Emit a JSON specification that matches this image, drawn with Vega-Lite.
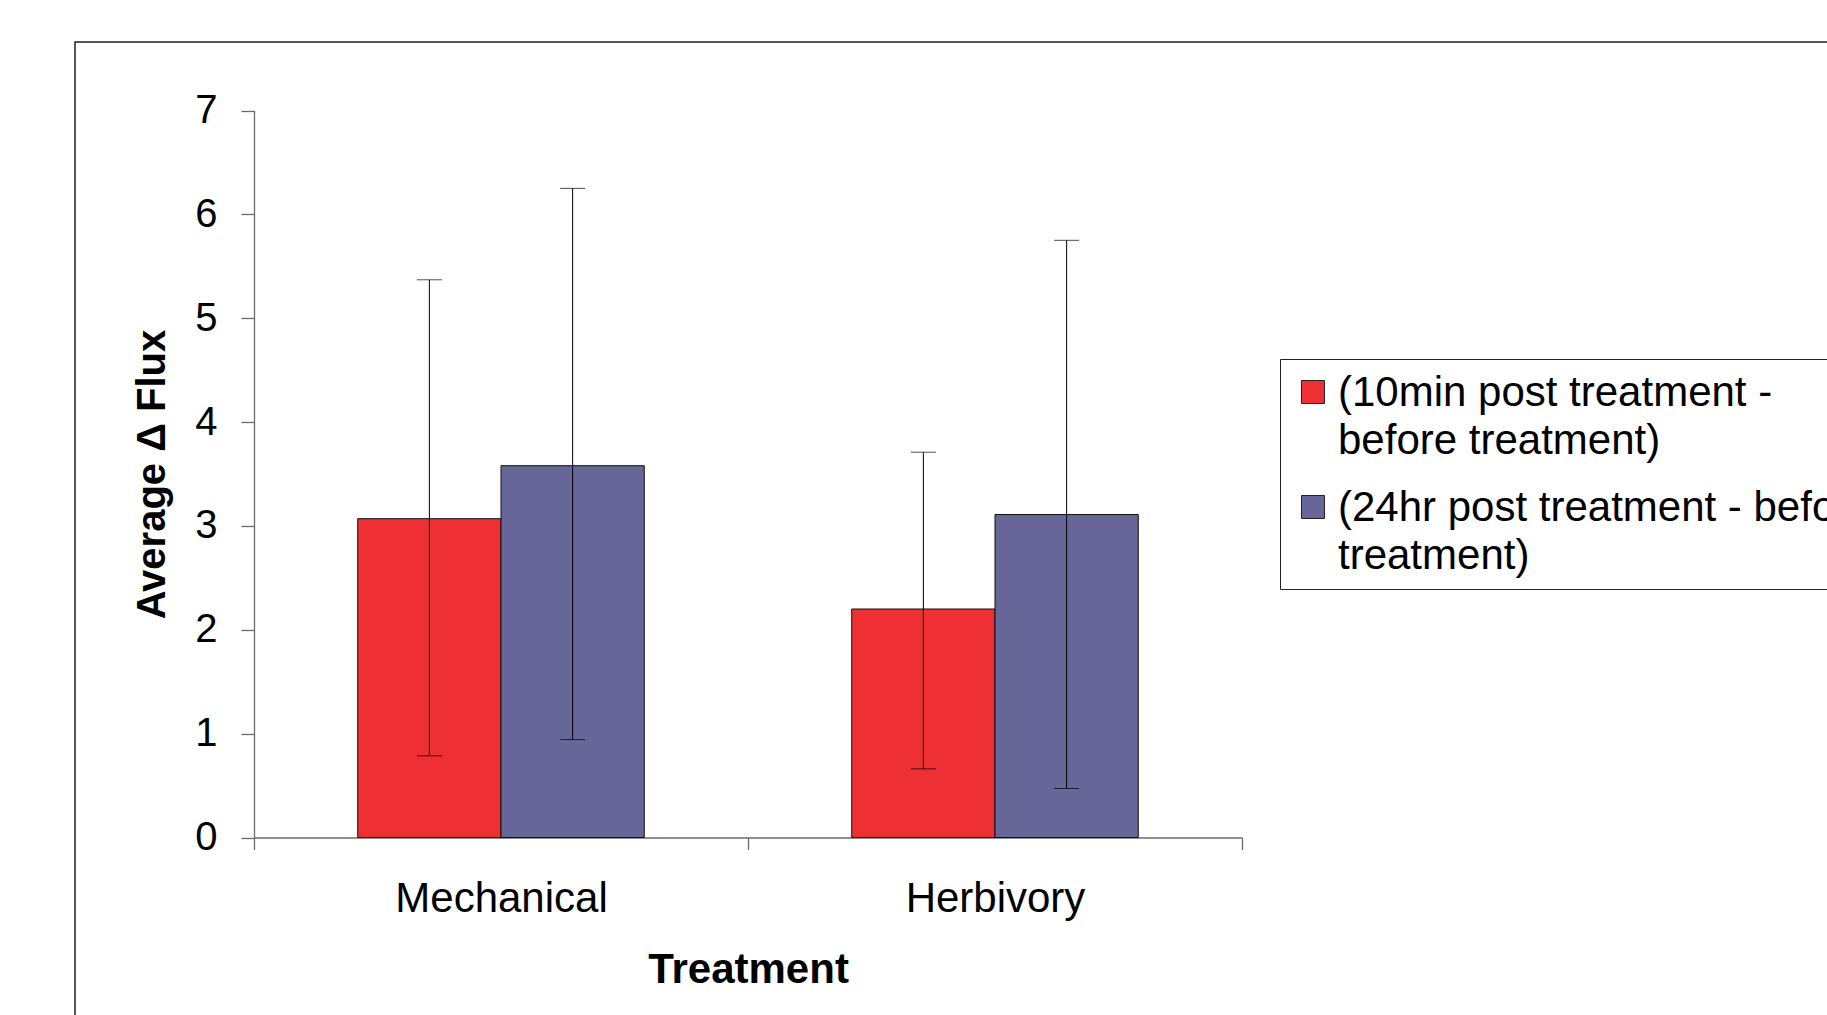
{
  "$schema": "https://vega.github.io/schema/vega-lite/v6.json",
  "autosize": {"type": "none"},
  "width": 1760,
  "height": 981,
  "padding": {"left": 75, "top": 42, "right": -8, "bottom": -8},
  "background": "white",
  "config": {
    "view": {"stroke": "#1f1f1f", "strokeWidth": 1.5},
    "font": "Liberation Sans",
    "axis": {
      "domainColor": "#6b6b6b",
      "tickColor": "#6b6b6b",
      "domainWidth": 1.3,
      "tickWidth": 1.3,
      "labelColor": "black",
      "titleColor": "black",
      "grid": false,
      "labelLimit": 500,
      "labelFont": "Liberation Sans",
      "titleFont": "Liberation Sans"
    }
  },
  "data": {
    "values": [
      {"treatment": "Mechanical", "series": "10min", "mean": 3.07, "lo": 0.786, "hi": 5.37},
      {"treatment": "Mechanical", "series": "24hr", "mean": 3.58, "lo": 0.943, "hi": 6.25},
      {"treatment": "Herbivory", "series": "10min", "mean": 2.2, "lo": 0.661, "hi": 3.71},
      {"treatment": "Herbivory", "series": "24hr", "mean": 3.11, "lo": 0.472, "hi": 5.75}
    ]
  },
  "encoding": {
    "x": {
      "field": "treatment",
      "type": "nominal",
      "sort": null,
      "scale": {"range": [179, 1167], "paddingInner": 0, "paddingOuter": 0},
      "axis": {
        "title": "Treatment",
        "labelAngle": 0,
        "tickBand": "extent",
        "tickSize": 12,
        "labelFontSize": 42,
        "labelPadding": 29,
        "titleFontSize": 42,
        "titleFontWeight": "bold",
        "titlePadding": 30,
        "offset": -185.5
      }
    },
    "xOffset": {
      "field": "series",
      "type": "nominal",
      "sort": ["10min", "24hr"],
      "scale": {"paddingInner": 0, "paddingOuter": 0.724}
    }
  },
  "layer": [
    {
      "mark": {"type": "bar", "stroke": "#111111", "strokeWidth": 1},
      "encoding": {
        "y": {
          "field": "mean",
          "type": "quantitative",
          "title": "Average Δ Flux",
          "scale": {"domain": [0, 7], "range": [795.5, 68.5], "nice": false, "zero": true},
          "axis": {
            "values": [0, 1, 2, 3, 4, 5, 6, 7],
            "format": "d",
            "tickSize": 13,
            "labelFontSize": 40,
            "labelPadding": 24,
            "titleFontSize": 40,
            "titleFontWeight": "bold",
            "titlePadding": 22,
            "offset": -179
          }
        },
        "color": {
          "field": "series",
          "type": "nominal",
          "scale": {"domain": ["10min", "24hr"], "range": ["#EE3034", "#666699"]},
          "legend": {
            "title": null,
            "orient": "none",
            "legendX": 1205,
            "legendY": 317,
            "padding": 12,
            "strokeColor": "#222222",
            "fillColor": "white",
            "symbolType": "square",
            "symbolSize": 529,
            "symbolStrokeColor": "#222222",
            "symbolStrokeWidth": 1,
            "labelFont": "Liberation Sans",
            "labelFontSize": 42,
            "labelColor": "black",
            "labelLimit": 2000,
            "labelOffset": 4,
            "labelBaseline": "top",
            "rowPadding": 24,
            "labelExpr": "datum.label == '10min' ? ['(10min post treatment -', 'before treatment)'] : ['(24hr post treatment - before', 'treatment)']",
            "encode": {"labels": {"update": {"lineHeight": {"value": 48}, "dy": {"value": -19}}}}
          }
        }
      }
    },
    {
      "mark": {"type": "rule", "color": "black", "strokeWidth": 1},
      "encoding": {
        "y": {"field": "lo", "type": "quantitative", "title": "Average Δ Flux"},
        "y2": {"field": "hi"}
      }
    },
    {
      "mark": {"type": "tick", "color": "black", "size": 25, "thickness": 1},
      "encoding": {"y": {"field": "lo", "type": "quantitative", "title": "Average Δ Flux"}}
    },
    {
      "mark": {"type": "tick", "color": "black", "size": 25, "thickness": 1},
      "encoding": {"y": {"field": "hi", "type": "quantitative", "title": "Average Δ Flux"}}
    }
  ]
}
